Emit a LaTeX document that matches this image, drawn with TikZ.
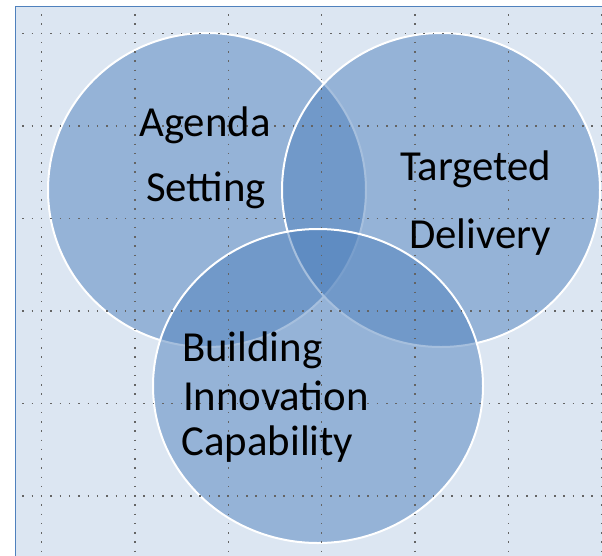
\documentclass[tikz,border=0pt]{standalone}
\usepackage{fontspec}
\setmainfont{Carlito}
\usetikzlibrary{shapes.geometric}
\definecolor{bgblue}{RGB}{220,230,242}
\definecolor{frameblue}{RGB}{79,129,189}
\definecolor{vennblue}{RGB}{79,129,189}
\definecolor{gridgray}{RGB}{100,100,100}
\tikzset{
  venn/.style={ellipse, inner sep=0pt, outer sep=0pt, fill=vennblue, fill opacity=0.5, draw=white, line width=2pt},
  lbl/.style={inner sep=0pt, outer sep=0pt, text=black, font=\fontsize{42.8}{50}\selectfont},
  hgrid/.style={draw=gridgray, line width=1.5pt, dash pattern=on 1.5pt off 7.83pt},
  vgrid/.style={draw=gridgray, line width=1.5pt, dash pattern=on 1.5pt off 7.75pt}
}
\begin{document}
\begin{tikzpicture}[x=1pt, y=-1pt]
\useasboundingbox (0,0) rectangle (602,555);
% background and frame
\fill[bgblue] (15.5,6.5) rectangle (603,556);
\draw[frameblue, line width=1.8pt] (15.5,556) -- (15.5,6.5) -- (603,6.5);
% circles
\node[venn, minimum width=318pt, minimum height=314pt] (agenda) at (207,190) {};
\node[venn, minimum width=318pt, minimum height=314pt] (targeted) at (441,190) {};
\node[venn, minimum width=330pt, minimum height=314pt] (building) at (318,386) {};
% grid (drawn on top, as in the editing view)
\foreach \yy in {33.3,125.8,218.3,310.8,403.3,495.8}
  \draw[hgrid] (22.2,\yy) -- (603,\yy);
\foreach \xx in {41.7,135,228.3,321.7,415,508.3,601.7}
  \draw[vgrid] (\xx,14.1) -- (\xx,556);
% labels
\node[lbl, anchor=base] (agendaA) at (205,136) {Agenda};
\node[lbl, anchor=base] (agendaB) at (206,201) {Setting};
\node[lbl, anchor=base] (targetedA) at (475.5,180.7) {Targeted};
\node[lbl, anchor=base] (targetedB) at (480,248) {Delivery};
\node[lbl, anchor=base west] (buildingA) at (182,361) {Building};
\node[lbl, anchor=base west] (buildingB) at (183,410) {Innovation};
\node[lbl, anchor=base west] (buildingC) at (181.5,455) {Capability};
\end{tikzpicture}
\end{document}
